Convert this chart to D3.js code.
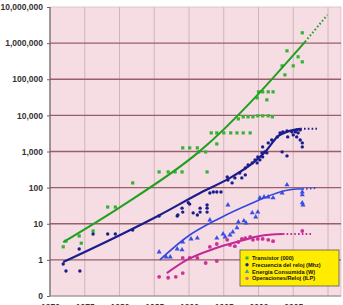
<!DOCTYPE html>
<html>
<head>
<meta charset="utf-8">
<script src="https://cdn.jsdelivr.net/npm/d3@7"></script>
<style>
  body { margin: 0; background: #fff; }
  svg { display: block; font-family: Arial, "Liberation Sans", sans-serif; }
  .tick text { font-size: 8.5px; font-weight: bold; fill: #333; }
  .legend-text { font-size: 5.6px; font-weight: bold; fill: #111; }
</style>
</head>
<body>
<div class="wrapper"></div>
<script>
// valores (año, valor)
const yearTicks = [1970, 1975, 1980, 1985, 1990, 1995, 2000, 2005]
const gridYears = [1975, 1980, 1985, 1990, 1995, 2000, 2005, 2010]
const yTickValues = [0.1, 1, 10, 100, 1e3, 1e4, 1e5, 1e6, 1e7]
const yTickLabels = ["0", "1", "10", "100", "1,000", "10,000", "100,000", "1,000,000", "10,000,000"]

const legendLabels = ["Transistor (000)", "Frecuencia del reloj (Mhz)", "Energía Consumida (W)", "Operaciones/Reloj (ILP)"]

// Transistores (miles)
const transYears = [1971.9, 1972.3, 1974.2, 1974.5, 1976.2, 1978.3, 1979.4, 1981.9, 1985.7, 1987.0, 1988.0, 1989.0, 1992.6,
    1991.4, 1992.4, 1989.1, 1990.1, 1991.2, 1993.2, 1994.0, 1995.0, 1996.0, 1996.9, 1997.8, 1998.8, 1994.0, 1997.1,
    1997.8, 1998.5, 1999.2, 1999.9, 2000.6, 2001.4, 2002.0, 1999.8, 2000.0, 2000.6, 2001.4, 2002.1, 2001.2,
    2003.4, 2003.8, 2004.1, 2005.0, 2005.7, 2006.3, 2006.3]
const transValues = [2.3, 3.3, 4.6, 2.9, 6.3, 29, 29, 135, 272, 272, 272, 272, 272,
    975, 975, 1260, 1260, 1260, 3270, 3270, 3270, 3270, 3270, 3270, 3270, 1620, 8000,
    9100, 9100, 9100, 9700, 9700, 9700, 9100, 30500, 44800, 44800, 44800, 44800, 26900,
    235000, 132000, 612000, 235000, 418000, 303000, 1930000]
const transTrendYears = [1971.9, 1980.1, 1991.6, 2006.7]
const transTrendValues = [3.1, 29, 1040, 1090000]
const transExtYears = [2006.7, 2009.9]
const transExtValues = [1090000, 6000000]

// Frecuencia del reloj (MHz)
const clockYears = [1971.9, 1972.3, 1974.3, 1974.2, 1976.2, 1978.3, 1979.4, 1981.9, 1985.7, 1988.4, 1989.0, 1989.1,
    1988.3, 1989.9, 1990.1, 1990.6, 1991.2, 1991.6, 1991.6, 1992.6, 1992.6, 1992.6, 1993.0, 1993.5, 1994.0, 1994.6,
    1995.5, 1995.6, 1996.2, 1996.6, 1997.3, 1998.1, 1998.5, 1999.1, 1999.5, 1999.9, 2000.5, 2000.9, 1999.8, 2000.2,
    2000.6, 2001.2, 1998.1, 1997.6, 2003.4, 2004.1, 2000.6, 2001.4, 2001.9, 2002.7, 2003.1, 2003.5, 2004.1, 2004.2,
    2004.8, 2005.0, 2005.3, 2005.5, 2005.7, 2006.0, 2006.3, 2006.3, 2006.0, 2005.5]
const clockValues = [0.77, 0.49, 0.49, 2.0, 5.2, 5.2, 5.2, 6.7, 16.4, 17.5, 27, 21,
    16.4, 38, 35, 20, 17.5, 27, 21, 33, 27, 21, 71, 76, 76, 76,
    198, 163, 135, 186, 255, 351, 425, 483, 585, 708, 915, 975, 483, 585,
    708, 915, 225, 186, 975, 755, 1340, 1730, 2090, 2536, 3270, 3490, 3720, 2536,
    3490, 2880, 3490, 2536, 3270, 2090, 1730, 1340, 3960, 3960]
const clockTrendYears = [1971.9, 1980.1, 1985.8, 1991.6, 1995.9, 1999.2, 2001.2, 2002.7, 2004.5, 2006.0]
const clockTrendValues = [0.87, 4.9, 17.5, 71, 186, 483, 1107, 2536, 3720, 4230]
const clockExtYears = [2006.0, 2008.4]
const clockExtValues = [4230, 4230]

// Energia consumida (W)
const powerYears = [1985.7, 1986.7, 1987.3, 1988.3, 1989.0, 1989.1, 1990.3, 1991.2, 1993.0, 1994.0, 1994.9, 1995.2,
    1995.6, 1995.9, 1996.3, 1996.9, 1997.1, 1997.9, 1998.2, 1999.1, 1999.6, 1999.9, 2000.2, 2000.8, 2001.4, 2002.1,
    2003.4, 2004.1, 2006.3, 2006.3, 2006.3, 2006.4]
const powerValues = [1.66, 1.2, 1.2, 2.0, 1.9, 3.1, 3.8, 4.0, 12.7, 4.0, 5.2, 4.3,
    33, 4.9, 5.9, 7.7, 11.2, 12.0, 10.5, 20, 15.4, 21, 52, 55, 55, 52,
    71, 119, 76, 63, 38, 33]
const powerTrendYears = [1985.8, 1989.7, 1994.5, 1999.2, 2003.1, 2005.5, 2006.3]
const powerTrendValues = [1.0, 4.3, 14.5, 38, 76, 92, 92]
const powerExtYears = [2006.3, 2008.4]
const powerExtValues = [92, 98]

// Operaciones por reloj (ILP)
const ilpYears = [1985.7, 1987.0, 1988.1, 1989.1, 1989.1, 1990.1, 1991.2, 1992.4, 1994.0, 1993.0, 1994.0, 1995.5,
    1995.9, 1996.6, 1997.1, 1997.6, 1998.1, 1998.8, 1999.2, 1999.9, 2000.6, 2001.4, 2002.1, 2006.3]
const ilpValues = [0.34, 0.32, 0.34, 0.43, 1.13, 1.13, 1.13, 0.82, 0.93, 2.3, 2.75, 3.6,
    2.6, 2.4, 3.1, 3.8, 4.0, 4.3, 3.6, 3.8, 3.8, 3.6, 3.3, 6.3]
const ilpTrendYears = [1986.8, 1989.7, 1993.5, 1997.3, 2000.2, 2003.5]
const ilpTrendValues = [0.43, 1.0, 2.0, 3.3, 4.6, 5.2]
const ilpExtYears = [2003.5, 2007.8]
const ilpExtValues = [5.2, 5.2]

function drawChart() {
    let dimensions = {
        width: 343,
        height: 305,
        margin: { top: 7, right: 2, bottom: 9, left: 50 },
    }
    dimensions.boundedWidth = dimensions.width - dimensions.margin.left - dimensions.margin.right
    dimensions.boundedHeight = dimensions.height - dimensions.margin.top - dimensions.margin.bottom

    const xScale = d3.scaleLinear()
        .domain([1970, 2010])
        .range([0, 278])

    const yScale = d3.scaleLog()
        .domain([0.1, 1e7])
        .range([dimensions.boundedHeight, 0])

    const wrapper = d3.select(".wrapper")
        .append("svg")
        .attr("width", dimensions.width)
        .attr("height", dimensions.height)

    const bounds = wrapper.append("g")
        .attr("transform", `translate(${dimensions.margin.left}, ${dimensions.margin.top})`)

    // fondo rosa
    bounds.append("rect")
        .attr("width", dimensions.boundedWidth)
        .attr("height", dimensions.boundedHeight)
        .attr("fill", "#f5dde3")
        .attr("stroke", "#d9bcc3")
        .attr("stroke-width", 0.8)

    bounds.selectAll(".v-grid")
        .data(gridYears)
        .enter().append("line")
        .attr("x1", d => xScale(d))
        .attr("x2", d => xScale(d))
        .attr("y1", 0)
        .attr("y2", dimensions.boundedHeight)
        .attr("stroke", "#d3b4bc")
        .attr("stroke-width", 1)

    bounds.selectAll(".h-grid")
        .data(yTickValues.slice(1, -1))
        .enter().append("line")
        .attr("x1", 0)
        .attr("x2", dimensions.boundedWidth)
        .attr("y1", d => yScale(d))
        .attr("y2", d => yScale(d))
        .attr("stroke", "#9a5f6c")
        .attr("stroke-width", 1.3)

    const yAxis = bounds.append("g")
        .call(d3.axisLeft(yScale)
            .tickValues(yTickValues)
            .tickFormat((d, i) => yTickLabels[i])
            .tickSize(3)
            .tickPadding(4))
    yAxis.select(".domain").remove()
    yAxis.selectAll(".tick line").attr("stroke", "#7a5a60")

    // etiquetas de años: en el original quedan cortadas por abajo
    const xAxis = bounds.append("g")
        .attr("transform", `translate(0, ${dimensions.boundedHeight})`)
        .call(d3.axisBottom(xScale)
            .tickValues(yearTicks)
            .tickFormat(d3.format("d"))
            .tickSize(0)
            .tickPadding(8))
    xAxis.select(".domain").remove()
    xAxis.selectAll(".tick text").attr("fill", "#555")

    // ejes
    bounds.append("line")
        .attr("x1", 0).attr("x2", 0)
        .attr("y1", 0).attr("y2", dimensions.boundedHeight)
        .attr("stroke", "#666").attr("stroke-width", 1.2)
    bounds.append("line")
        .attr("x1", 0).attr("x2", dimensions.boundedWidth)
        .attr("y1", dimensions.boundedHeight).attr("y2", dimensions.boundedHeight)
        .attr("stroke", "#888").attr("stroke-width", 1)

    const lineGenerator = d3.line()
        .x(d => xScale(d[0]))
        .y(d => yScale(d[1]))
        .curve(d3.curveMonotoneX)

    const series = [
        { years: transYears, values: transValues, tYears: transTrendYears, tValues: transTrendValues,
          eYears: transExtYears, eValues: transExtValues, line: "#1fa01f", marker: "#35b335", shape: "square", width: 2 },
        { years: clockYears, values: clockValues, tYears: clockTrendYears, tValues: clockTrendValues,
          eYears: clockExtYears, eValues: clockExtValues, line: "#1c1c8c", marker: "#1c1c8c", shape: "circle", width: 2.2 },
        { years: powerYears, values: powerValues, tYears: powerTrendYears, tValues: powerTrendValues,
          eYears: powerExtYears, eValues: powerExtValues, line: "#3346e0", marker: "#3a4ee4", shape: "triangle", width: 1.6 },
        { years: ilpYears, values: ilpValues, tYears: ilpTrendYears, tValues: ilpTrendValues,
          eYears: ilpExtYears, eValues: ilpExtValues, line: "#c42a96", marker: "#cc3399", shape: "dot", width: 2 },
    ]

    series.forEach(s => {
        const points = d3.zip(s.years, s.values)
        const g = bounds.append("g")
        if (s.shape == "square") {
            g.selectAll("rect").data(points).enter().append("rect")
                .attr("x", d => xScale(d[0]) - 1.6)
                .attr("y", d => yScale(d[1]) - 1.6)
                .attr("width", 3.2).attr("height", 3.2)
                .attr("fill", s.marker)
        } else if (s.shape == "triangle") {
            const tri = d3.symbol().type(d3.symbolTriangle).size(11)
            g.selectAll("path").data(points).enter().append("path")
                .attr("d", tri)
                .attr("transform", d => `translate(${xScale(d[0])}, ${yScale(d[1])})`)
                .attr("fill", s.marker)
        } else {
            g.selectAll("circle").data(points).enter().append("circle")
                .attr("cx", d => xScale(d[0]))
                .attr("cy", d => yScale(d[1]))
                .attr("r", s.shape == "dot" ? 1.9 : 1.7)
                .attr("fill", s.marker)
        }

        bounds.append("path")
            .attr("d", lineGenerator(d3.zip(s.tYears, s.tValues)))
            .attr("fill", "none")
            .attr("stroke", s.line)
            .attr("stroke-width", s.width)
        bounds.append("path")
            .attr("d", lineGenerator(d3.zip(s.eYears, s.eValues)))
            .attr("fill", "none")
            .attr("stroke", s.line)
            .attr("stroke-width", 2)
            .attr("stroke-dasharray", "1.6,2.2")
    })

    // leyenda
    const legendGroup = wrapper.append("g")
        .attr("transform", "translate(240, 250)")
    legendGroup.append("rect")
        .attr("width", 99)
        .attr("height", 36)
        .attr("fill", "#ffec00")
        .attr("stroke", "#555")
        .attr("stroke-width", 0.8)

    const legendColors = ["#33b833", "#2222a0", "#33aaa0", "#dd55bb"]
    const legendItems = legendGroup.selectAll(".legend-item")
        .data(legendLabels)
        .enter().append("g")
        .attr("transform", (d, i) => `translate(7, ${8 + i * 6.8})`)
    legendItems.append("path")
        .attr("d", (d, i) => d3.symbol()
            .type([d3.symbolSquare, d3.symbolCircle, d3.symbolTriangle, d3.symbolCircle][i])
            .size(9)())
        .attr("fill", (d, i) => legendColors[i])
    legendItems.append("text")
        .attr("class", "legend-text")
        .attr("x", 5)
        .attr("dy", "0.35em")
        .text(d => d)
}

drawChart()
</script>
</body>
</html>
